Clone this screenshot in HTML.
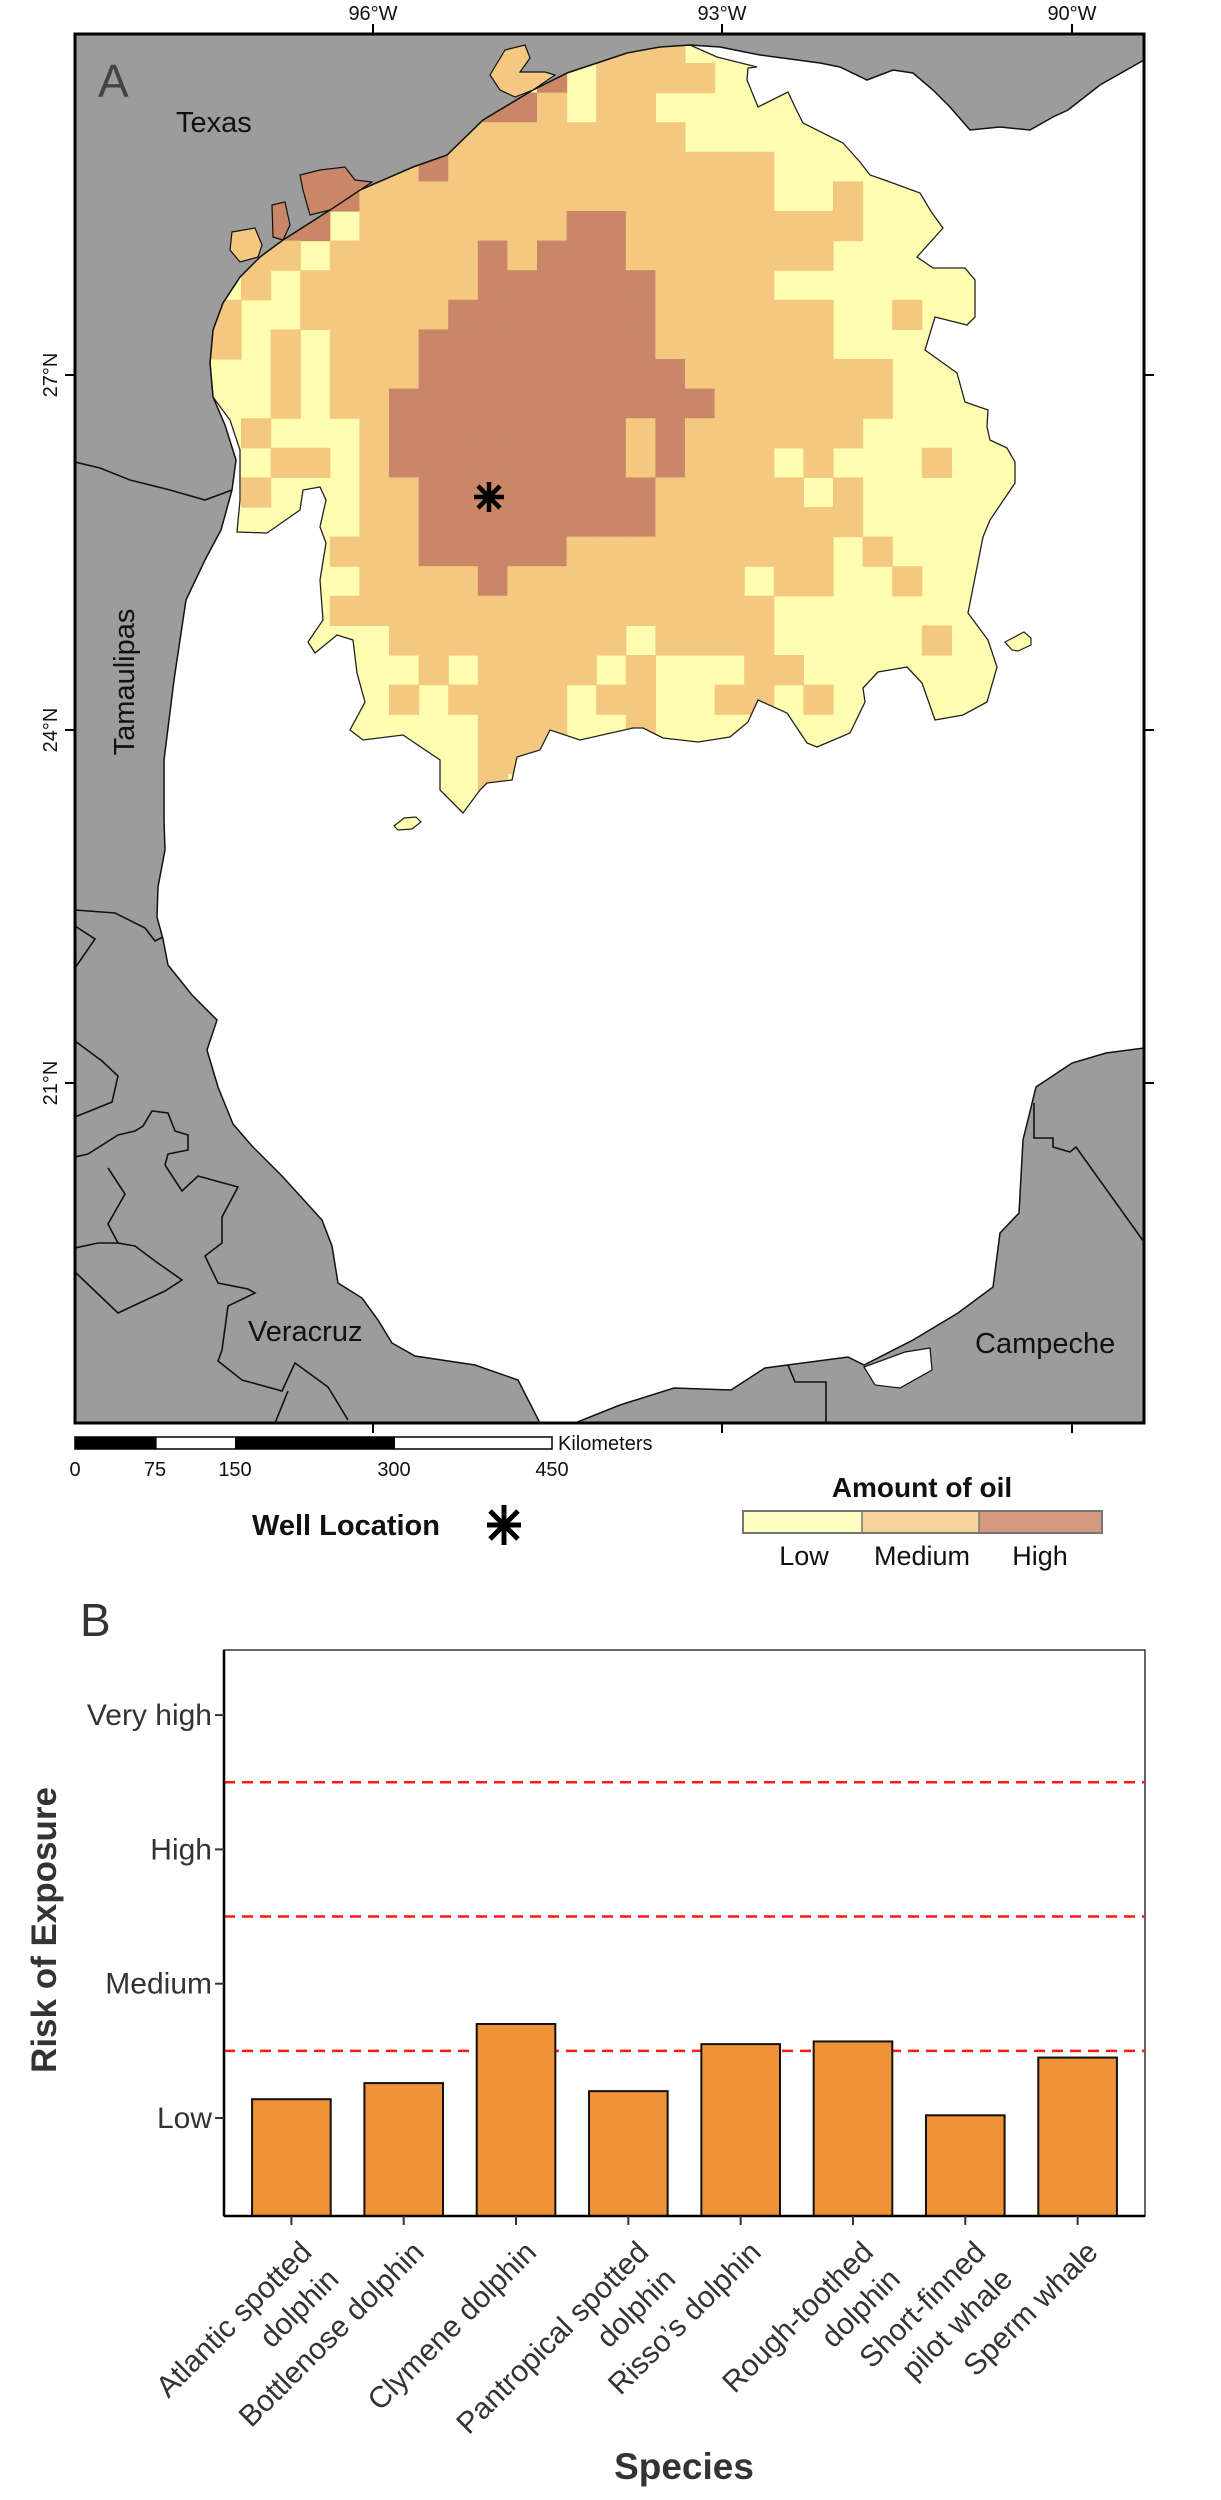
<!DOCTYPE html>
<html><head><meta charset="utf-8"><style>
body{margin:0;background:#fff;}
svg{display:block;font-family:"Liberation Sans",Arial,sans-serif;}
</style></head><body>
<svg id="root" width="1221" height="2500" viewBox="0 0 1221 2500" xmlns="http://www.w3.org/2000/svg">
<defs>
<clipPath id="plumeClip"><polygon id="plumeClipPoly" points=""/></clipPath>
<clipPath id="frameClip"><rect x="75" y="34" width="1069" height="1389"/></clipPath>
</defs>
<g id="mapPanel">
  <rect x="75" y="34" width="1069" height="1389" fill="#fff"/>
  <g clip-path="url(#frameClip)">
    <polygon id="plumeBase" fill="#FFFDB0"/>
    <g id="cells" clip-path="url(#plumeClip)"></g>
    <polygon id="plumeOutline" fill="none" stroke="#222" stroke-width="1.3"/>
    <polygon id="landNW" fill="#9C9C9C" stroke="#111" stroke-width="1.5"/>
    <polygon id="landSE" fill="#9C9C9C" stroke="#111" stroke-width="1.5"/>
    <polygon points="864,1367 905,1352 930,1348 932,1370 900,1388 875,1385" fill="#fff" stroke="#111" stroke-width="1.2"/>
    <polygon points="490,75 505,50 525,45 530,58 520,72 545,72 555,75 533,90 515,97 500,90" fill="#F5C882" stroke="#111" stroke-width="1.2"/>
    <polygon points="300,175 320,170 345,167 355,180 372,182 360,190 330,210 310,215 303,190" fill="#C98767" stroke="#111" stroke-width="1.2"/>
    <polygon points="272,205 285,202 290,225 283,240 273,237" fill="#C98767" stroke="#111" stroke-width="1.2"/>
    <polygon points="232,232 255,228 262,245 258,257 240,262 230,250" fill="#F5C882" stroke="#111" stroke-width="1.2"/>
    <polygon points="1005,642 1024,632 1031,638 1031,645 1018,651 1012,650" fill="#FFFDB0" stroke="#222" stroke-width="1.2"/>
    <polygon points="394,826 404,818 416,817 421,822 412,829 398,830" fill="#FFFDB0" stroke="#222" stroke-width="1.2"/>
    <g id="borders" fill="none" stroke="#111" stroke-width="1.6">
      <polyline points="75,462 100,468 130,480 170,490 205,500 232,490"/>
      <polyline points="75,910 115,913 145,928 155,941 163,937"/>
      <polyline points="75,968 95,939 75,926"/>
      <polyline points="75,1041 102,1061 118,1076 112,1102 75,1117"/>
      <polyline points="75,1157 88,1154 118,1135 135,1131 143,1126 152,1111 168,1113 175,1131 188,1135 188,1150 168,1154 165,1165 182,1191 198,1176 238,1187 222,1217 222,1243 205,1256 218,1283 248,1289 255,1293 228,1306 222,1350 218,1361 242,1380 282,1391 295,1363 328,1387 348,1420"/>
      <polyline points="108,1168 125,1194 108,1224 118,1243 135,1246 155,1261 182,1280 165,1291 118,1313 75,1272"/>
      <polyline points="75,1248 98,1243 118,1243"/>
      <polyline points="288,1391 275,1423"/>
      <polyline points="788,1365 795,1382 826,1382 826,1423"/>
      <polyline points="1034,1103 1034,1138 1053,1138 1053,1147 1070,1152 1076,1147 1144,1242"/>
    </g>
    <g stroke="#000" stroke-width="4.5" stroke-linecap="butt">
      <line x1="489" y1="482" x2="489" y2="512"/><line x1="474" y1="497" x2="504" y2="497"/>
      <line x1="478" y1="486" x2="500" y2="508"/><line x1="500" y1="486" x2="478" y2="508"/>
    </g>
  </g>
  <rect x="75" y="34" width="1069" height="1389" fill="none" stroke="#000" stroke-width="3"/>
  <g id="mapTicks" stroke="#000" stroke-width="2"></g>
  <g id="mapLabels" font-size="20" fill="#111"></g>
  <text x="98" y="97" font-size="46" fill="#444">A</text>
  <text x="176" y="132" font-size="29" fill="#111">Texas</text>
  <text transform="translate(134,682) rotate(-90)" text-anchor="middle" font-size="29" fill="#111">Tamaulipas</text>
  <text x="248" y="1341" font-size="29" fill="#111">Veracruz</text>
  <text x="975" y="1353" font-size="29" fill="#111">Campeche</text>
  <g>
    <rect x="75" y="1437" width="477" height="12" fill="#fff" stroke="#000" stroke-width="1.5"/>
    <rect x="75" y="1437" width="81.6" height="12" fill="#000"/>
    <rect x="235" y="1437" width="160" height="12" fill="#000"/>
    <text x="558" y="1450" font-size="20" fill="#111">Kilometers</text>
    <g font-size="20" fill="#111" text-anchor="middle">
      <text x="75" y="1476">0</text><text x="155" y="1476">75</text><text x="235" y="1476">150</text><text x="394" y="1476">300</text><text x="552" y="1476">450</text>
    </g>
  </g>
  <text x="252" y="1535" font-size="29" font-weight="bold" fill="#111">Well Location</text>
  <g stroke="#000" stroke-width="5">
    <line x1="504" y1="1505" x2="504" y2="1545"/><line x1="487" y1="1525" x2="521" y2="1525"/>
    <line x1="490" y1="1511" x2="518" y2="1539"/><line x1="518" y1="1511" x2="490" y2="1539"/>
  </g>
  <g>
    <text x="922" y="1497" text-anchor="middle" font-size="28" font-weight="bold" fill="#111">Amount of oil</text>
    <rect x="743" y="1511" width="119" height="22" fill="#FFFFC4"/>
    <rect x="862" y="1511" width="117" height="22" fill="#F7D49A"/>
    <rect x="979" y="1511" width="123" height="22" fill="#D49A80"/>
    <rect x="743" y="1511" width="359" height="22" fill="none" stroke="#777" stroke-width="2"/>
    <line x1="862" y1="1511" x2="862" y2="1533" stroke="#777" stroke-width="1.5"/>
    <line x1="979" y1="1511" x2="979" y2="1533" stroke="#777" stroke-width="1.5"/>
    <g font-size="27" fill="#111" text-anchor="middle">
      <text x="804" y="1565">Low</text><text x="922" y="1565">Medium</text><text x="1040" y="1565">High</text>
    </g>
  </g>
</g>

<g id="chartPanel">
  <text x="80" y="1636" font-size="46" fill="#333">B</text>
  <rect x="224" y="1650" width="921" height="566" fill="#fff" stroke="#333" stroke-width="1.5"/>
  <g id="dashes"></g>
  <g id="bars"></g>
  <line x1="224" y1="1650" x2="224" y2="2216" stroke="#000" stroke-width="2.5"/>
  <line x1="224" y1="2216" x2="1145" y2="2216" stroke="#000" stroke-width="2.5"/>
  <g id="yTicks"></g>
  <g id="xTicks"></g>
  <text transform="translate(56,1930) rotate(-90)" text-anchor="middle" font-size="35" font-weight="bold" fill="#333">Risk of Exposure</text>
  <text x="684" y="2479" text-anchor="middle" font-size="37" font-weight="bold" fill="#333">Species</text>
</g>
</svg>
<script>
// ---- Chart data ----
const species = [["Atlantic spotted","dolphin"],["Bottlenose dolphin"],["Clymene dolphin"],["Pantropical spotted","dolphin"],["Risso\u2019s dolphin"],["Rough-toothed","dolphin"],["Short-finned","pilot whale"],["Sperm whale"]];
const riskValues = [1.14, 1.26, 1.70, 1.20, 1.55, 1.57, 1.02, 1.45];
const yTickLabels = ["Low","Medium","High","Very high"];
const yTickValues = [1, 2, 3, 4];
const thresholdValues = [1.5, 2.5, 3.5];

// ---- Map data: oil grid rows (row -1 first), columns -2..28 ----
const oilRows = [
"LLLLLLLLLLLLLLMMMLLLLLLLLLLLLLL",
"LLLLLLLLLLLLHLMMMMLLLLLLLLLLLLL",
"LLLLLLLLLLHHMLMMLLLLLLLLLLLLLLL",
"LLLLLLLMMMMMMMMMMLLLLLLLLLLLLLL",
"LLLLLLMMHMMMMMMMMMMMLLLLLLLLLLL",
"LLLLHHMMMMMMMMMMMMMMLLMLLLLLLLL",
"LLLHHLMMMMMMMHHMMMMMMMMLLLLLLLL",
"LLMMLMMMMMHMHHHMMMMMMMLLLLLLLLL",
"LLMLMMMMMMHHHHHHMMMMLLLLLLLLLLL",
"LMLLMMMMMHHHHHHHMMMMMMLLMLLLLLL",
"LMLMLMMMHHHHHHHHMMMMMMLLLLLLLLL",
"LLLMLMMMHHHHHHHHHMMMMMMMLLLLLLL",
"LLLMLMMHHHHHHHHHHHMMMMMMLLLLLLL",
"LLMLLLMHHHHHHHHMHMMMMMMLLLLLLLL",
"LLLMMLMHHHHHHHHMHMMMLMLLLMLLLLL",
"LLMLLLMMHHHHHHHHMMMMMLMLLLLLLLL",
"LLLLLLMMHHHHHHHHMMMMMMMLLLLLLLL",
"LLLLLMMMHHHHHMMMMMMMMMLMLLLLLLL",
"LLLLLLMMMMHMMMMMMMMLMMLLMLLLLLL",
"LLLLLMMMMMMMMMMMMMMMLLLLLLLLLLL",
"LLLLLLLMMMMMMMMLMMMMLLLLLMLLLLL",
"LLLLLLLLMLMMMMLMLLLMMLLLLLLLLLL",
"LLLLLLLMLMMMMLMMLLMMLMLLLLLLLLL",
"LLLLLLLLLLMMMLLMLLLLLLLLLLLLLLL",
"LLLLLLLLLLMMMLLLLLLLLLLLLLLLLLL",
"LLLLLLLLLLMLLLLLLLLLLLLLLLLLLLL"
];
const cellColors = {M:"#F5C882", H:"#C98767"};

const plume = [[627,53],[650,47],[690,45],[717,57],[757,67],[748,68],[747,80],[758,107],[788,92],[795,107],[803,123],[843,143],[860,162],[870,175],[890,182],[920,193],[932,213],[943,228],[917,257],[933,268],[965,268],[975,280],[975,317],[967,325],[935,317],[925,350],[957,373],[965,402],[988,410],[987,427],[990,440],[1007,448],[1015,462],[1015,483],[990,520],[983,537],[968,613],[988,640],[997,667],[987,702],[963,715],[935,720],[922,683],[907,667],[878,672],[863,688],[865,702],[850,733],[817,747],[807,743],[787,713],[758,700],[748,722],[730,737],[698,742],[663,738],[643,728],[633,728],[580,740],[550,730],[540,750],[517,757],[512,780],[487,783],[480,790],[463,813],[440,790],[440,760],[403,735],[363,740],[350,730],[365,702],[357,673],[353,640],[337,635],[315,653],[308,642],[323,620],[320,580],[326,543],[320,527],[326,500],[320,487],[303,490],[300,510],[267,533],[237,532],[240,500],[240,450],[230,420],[213,397],[210,363],[213,330],[223,303],[240,277],[260,257],[283,240],[330,210],[360,190],[413,167],[447,155],[483,120],[533,90],[567,73]];
const coastTexas = [[1144,34],[1144,60],[1100,85],[1068,110],[1053,117],[1030,130],[1000,127],[970,130],[950,107],[933,90],[913,73],[893,70],[867,80],[840,67],[820,63],[760,55],[720,47],[690,45],[660,47],[627,53],[567,73],[533,90],[483,120],[447,155],[413,167],[360,190],[330,210],[283,240],[260,257],[240,277],[223,303],[213,330],[210,363],[213,397],[225,425],[236,460],[232,490],[221,530],[205,560],[186,600],[174,680],[164,760],[164,820],[165,850],[158,887],[157,917],[163,939],[168,965],[192,995],[217,1020],[207,1050],[218,1087],[233,1124],[252,1146],[282,1176],[322,1220],[332,1246],[338,1283],[362,1298],[378,1320],[392,1343],[415,1356],[475,1365],[518,1380],[540,1423],[75,1423],[75,34]];
const coastYucatan = [[575,1423],[620,1405],[674,1388],[731,1390],[765,1368],[848,1357],[864,1365],[913,1340],[958,1313],[993,1287],[1000,1233],[1019,1213],[1023,1140],[1036,1087],[1072,1063],[1106,1053],[1144,1048],[1144,1423]];
const lonTicks = [373, 722, 1072], lonLabels = ["96°W","93°W","90°W"];
const latTicks = [375, 730, 1083], latLabels = ["27°N","24°N","21°N"];

const NS = "http://www.w3.org/2000/svg";
function mk(tag, attrs, parent){ const e=document.createElementNS(NS,tag); for(const k in attrs) e.setAttribute(k,attrs[k]); parent.appendChild(e); return e; }
const pts = a => a.map(p=>p.join(",")).join(" ");

document.getElementById("plumeClipPoly").setAttribute("points", pts(plume));
document.getElementById("plumeBase").setAttribute("points", pts(plume));
document.getElementById("plumeOutline").setAttribute("points", pts(plume));
document.getElementById("landNW").setAttribute("points", pts(coastTexas));
document.getElementById("landSE").setAttribute("points", pts(coastYucatan));
const cellG = document.getElementById("cells");
const CX0 = 241, CY0 = 63, CS = 29.6;
oilRows.forEach((row, i) => {
  const r = i - 1;
  for (let j = 0; j < row.length; j++) {
    const ch = row[j];
    if (ch === "M" || ch === "H") {
      const c = j - 2;
      const cell = mk("rect", {x:CX0 + CS*c, y:CY0 + CS*r, width:CS+0.6, height:CS+0.6, fill:cellColors[ch]}, cellG);
      
      
    }
  }
});
const mt = document.getElementById("mapTicks"), ml = document.getElementById("mapLabels");
lonTicks.forEach((x, i) => {
  mk("line",{x1:x,y1:24,x2:x,y2:34},mt); mk("line",{x1:x,y1:1423,x2:x,y2:1433},mt);
  const t = mk("text",{x:x,y:20,"text-anchor":"middle"},ml); t.textContent = lonLabels[i];
  
  
});
latTicks.forEach((y, i) => {
  mk("line",{x1:65,y1:y,x2:75,y2:y},mt); mk("line",{x1:1144,y1:y,x2:1154,y2:y},mt);
  const t = mk("text",{transform:`translate(57,${y}) rotate(-90)`,"text-anchor":"middle"},ml); t.textContent = latLabels[i];
  
  
});

// chart
const PL = 224, PR = 1145, PT = 1650, PB = 2216;
const yScale = v => 2118 - (v - 1) * 134.3;
const bandW = (PR - PL) / (species.length + 0.2);
const xScale = i => PL + (i + 0.6) * bandW;
const barW = bandW * 0.7;
const dG = document.getElementById("dashes");
thresholdValues.forEach(v => {
  const l = mk("line",{x1:PL,x2:PR,y1:yScale(v),y2:yScale(v),stroke:"#FF1A1A","stroke-width":2.5,"stroke-dasharray":"11 7"},dG);
  
  
});
const bG = document.getElementById("bars");
riskValues.forEach((v, i) => {
  const y = yScale(v);
  const b = mk("rect",{x:xScale(i)-barW/2,y:y,width:barW,height:PB-y,fill:"#F09236",stroke:"#111","stroke-width":2},bG);
  
  
});
const yt = document.getElementById("yTicks");
yTickValues.forEach((v, i) => {
  mk("line",{x1:215,x2:224,y1:yScale(v),y2:yScale(v),stroke:"#333","stroke-width":2},yt);
  const t = mk("text",{x:212,y:yScale(v)+10,"text-anchor":"end","font-size":30,fill:"#333"},yt);
  t.textContent = yTickLabels[i];
  
  
});
const xt = document.getElementById("xTicks");
species.forEach((lines, i) => {
  const cx = xScale(i);
  mk("line",{x1:cx,x2:cx,y1:PB,y2:PB+9,stroke:"#333","stroke-width":2},xt);
  const g = mk("g",{transform:`translate(${cx+22},2254) rotate(-45)`},xt);
  
  
  lines.forEach((s, k) => {
    const t = mk("text",{x:0,y:k*38,"text-anchor":"end","font-size":30,fill:"#333"},g);
    t.textContent = s;
  });
});
</script>
</body></html>
